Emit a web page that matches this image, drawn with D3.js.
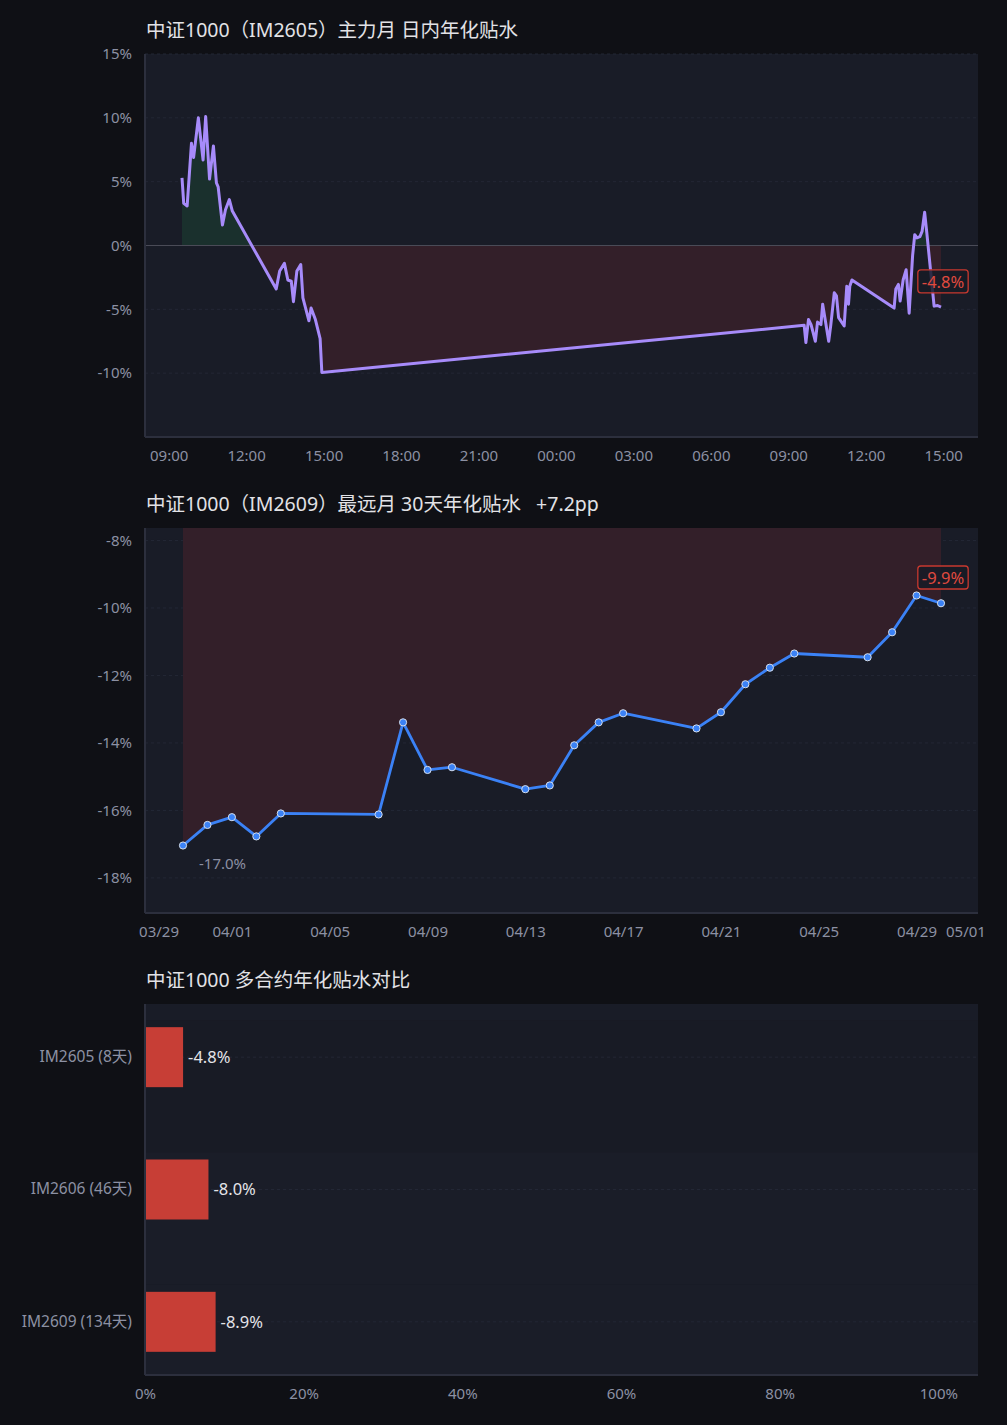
<!DOCTYPE html>
<html>
<head>
<meta charset="utf-8">
<script src="https://cdn.jsdelivr.net/npm/d3@7/dist/d3.min.js"></script>
<style>
  body { margin: 0; background: #0f1015; }
  svg text { font-family: "Noto Sans", "Noto Sans CJK SC", sans-serif; }
</style>
</head>
<body>
<div id="chart"></div>
<script>
// ---- data ----
var intradayTimes = [
  "04-29 09:31", "04-29 09:35", "04-29 09:43", "04-29 09:53", "04-29 09:58",
  "04-29 10:09", "04-29 10:20", "04-29 10:26", "04-29 10:35", "04-29 10:44",
  "04-29 10:51", "04-29 10:55", "04-29 11:05", "04-29 11:12", "04-29 11:21",
  "04-29 11:28",
  "04-29 13:10", "04-29 13:18", "04-29 13:29", "04-29 13:37", "04-29 13:45",
  "04-29 13:50", "04-29 13:58", "04-29 14:07", "04-29 14:12", "04-29 14:26",
  "04-29 14:31", "04-29 14:41", "04-29 14:52", "04-29 14:56",
  "04-30 09:37", "04-30 09:41", "04-30 09:47", "04-30 09:53", "04-30 10:03",
  "04-30 10:08", "04-30 10:16", "04-30 10:20", "04-30 10:34", "04-30 10:39",
  "04-30 10:47", "04-30 10:52", "04-30 10:57", "04-30 11:10", "04-30 11:16",
  "04-30 11:20", "04-30 11:23", "04-30 11:28",
  "04-30 13:06", "04-30 13:10", "04-30 13:16", "04-30 13:20", "04-30 13:27",
  "04-30 13:34", "04-30 13:41", "04-30 13:49", "04-30 13:54", "04-30 13:59",
  "04-30 14:06", "04-30 14:11", "04-30 14:17", "04-30 14:22", "04-30 14:39",
  "04-30 14:47", "04-30 14:55"
];
var intradayValues = [
  5.3, 3.3, 3.1, 8.0, 6.9,
  10.0, 6.7, 10.1, 5.2, 7.8,
  4.9, 4.6, 1.6, 2.8, 3.6,
  2.7,
  -3.4, -2.0, -1.4, -2.7, -2.8,
  -4.4, -2.0, -1.5, -4.1, -5.9,
  -4.9, -5.8, -7.3, -9.95,
  -6.25, -7.6, -5.8, -6.2, -7.5,
  -6.0, -6.2, -4.6, -7.5, -6.2,
  -3.7, -3.95, -5.65, -6.3, -3.2,
  -4.6, -3.2, -2.7,
  -4.9, -3.4, -3.05, -4.35, -2.7,
  -1.9, -5.3, -0.8, 0.85, 0.6,
  0.7, 1.1, 2.6, 1.0, -4.75,
  -4.7, -4.82
];

var dailyDates = [
  "03-30", "03-31", "04-01", "04-02", "04-03", "04-07", "04-08", "04-09",
  "04-10", "04-13", "04-14", "04-15", "04-16", "04-17", "04-20", "04-21",
  "04-22", "04-23", "04-24", "04-27", "04-28", "04-29", "04-30"
];
var dailyValues = [
  -17.04, -16.43, -16.2, -16.77, -16.09, -16.12, -13.39, -14.8,
  -14.72, -15.37, -15.26, -14.07, -13.39, -13.12, -13.57, -13.09,
  -12.26, -11.77, -11.35, -11.46, -10.72, -9.63, -9.86
];

var contracts = ["IM2605 (8天)", "IM2606 (46天)", "IM2609 (134天)"];
var contractValues = [-4.8, -8.0, -8.9];

var intradayTicks = [-10, -5, 0, 5, 10, 15];
var dailyTicks = [-18, -16, -14, -12, -10, -8];
var barTicks = [0, 20, 40, 60, 80, 100];

// ---- layout ----
var W = 1007, H = 1425;
var LEFT = 145, RIGHT = 978, PW = RIGHT - LEFT;
var PAD = 37;

var C = {
  bg: "#0f1015", panel: "#191c27", grid: "#232735", axis: "#2c2f3d",
  text: "#8c90a3", title: "#e2e2e6", zero: "#4a4b57",
  green: "#1a302d", red: "#331f29", label: "#e04a3f"
};

var svg = d3.select("#chart").append("svg")
  .attr("width", W).attr("height", H)
  .style("background", C.bg);

var parseMin = d3.timeParse("%Y-%m-%d %H:%M");
var parseDay = d3.timeParse("%Y-%m-%d");

function addPanel(top, height, title) {
  var g = svg.append("g").attr("transform", "translate(" + LEFT + "," + top + ")");
  g.append("rect").attr("width", PW).attr("height", height).attr("fill", C.panel);
  svg.append("text")
    .attr("x", LEFT + 1).attr("y", top - 17)
    .attr("fill", C.title)
    .style("font-size", "19.5px")
    .style("white-space", "pre")
    .text(title);
  return g;
}

function frame(g, height) {
  g.append("line").attr("x1", 0).attr("x2", 0).attr("y1", 0).attr("y2", height)
    .attr("stroke", C.axis).attr("stroke-width", 2);
  g.append("line").attr("x1", 0).attr("x2", PW).attr("y1", height).attr("y2", height)
    .attr("stroke", C.axis).attr("stroke-width", 2);
}

function yAxisLabels(g, y, ticks, height) {
  g.selectAll(".grid").data(ticks).enter().append("line")
    .attr("x1", 0).attr("x2", PW)
    .attr("y1", function(d) { return y(d); })
    .attr("y2", function(d) { return y(d); })
    .attr("stroke", C.grid).attr("stroke-dasharray", "3,3");
  var ax = g.append("g").call(d3.axisLeft(y).tickValues(ticks).tickSize(0).tickPadding(13)
    .tickFormat(function(d) { return d + "%"; }));
  ax.select(".domain").remove();
  ax.selectAll("text").attr("fill", C.text).style("font-size", "15px");
}

function xAxisLabels(g, x, ticks, fmt, height) {
  var ax = g.append("g").attr("transform", "translate(0," + height + ")")
    .call(d3.axisBottom(x).tickValues(ticks).tickSize(0).tickPadding(13).tickFormat(fmt));
  ax.select(".domain").remove();
  ax.selectAll("text").attr("fill", C.text).style("font-size", "15px");
}

function fillAreas(g, id, data, x, y, height) {
  var zy = Math.max(0, Math.min(height, y(0)));
  var defs = svg.append("defs");
  defs.append("clipPath").attr("id", id + "-up")
    .append("rect").attr("width", PW).attr("height", zy);
  defs.append("clipPath").attr("id", id + "-dn")
    .append("rect").attr("y", zy).attr("width", PW).attr("height", height - zy);
  var area = d3.area()
    .x(function(d) { return x(d.t); })
    .y0(y(0))
    .y1(function(d) { return y(d.v); });
  g.append("path").attr("d", area(data)).attr("fill", C.green)
    .attr("clip-path", "url(#" + id + "-up)");
  g.append("path").attr("d", area(data)).attr("fill", C.red)
    .attr("clip-path", "url(#" + id + "-dn)");
}

function valueTag(g, px, py, txt) {
  var t = g.append("text")
    .attr("x", px + 2).attr("y", py - 25)
    .attr("dy", "0.35em")
    .attr("text-anchor", "middle")
    .attr("fill", C.label)
    .style("font-size", "16.5px")
    .text(txt);
  var b = t.node().getBBox();
  g.insert("rect", function() { return t.node(); })
    .attr("x", b.x - 4).attr("y", b.y)
    .attr("width", b.width + 8).attr("height", b.height)
    .attr("rx", 3)
    .attr("fill", "rgba(24,27,38,0.85)")
    .attr("stroke", "#c8392f").attr("stroke-width", 1.3);
}

// ---- chart 1: intraday ----
(function() {
  var top = 54, height = 383;
  var data = intradayTimes.map(function(s, i) {
    return { t: parseMin("2026-" + s), v: intradayValues[i] };
  });
  var g = addPanel(top, height, "中证1000（IM2605）主力月 日内年化贴水");

  var x = d3.scaleTime()
    .domain(d3.extent(data, function(d) { return d.t; }))
    .range([PAD, PW - PAD]);
  var y = d3.scaleLinear().domain([-15, 15]).range([height, 0]);

  yAxisLabels(g, y, intradayTicks, height);
  fillAreas(g, "c1", data, x, y, height);

  g.append("line").attr("x1", 0).attr("x2", PW)
    .attr("y1", y(0)).attr("y2", y(0))
    .attr("stroke", C.zero).attr("stroke-width", 1);

  var line = d3.line()
    .x(function(d) { return x(d.t); })
    .y(function(d) { return y(d.v); });
  g.append("path").attr("d", line(data))
    .attr("fill", "none").attr("stroke", "#a78bfa")
    .attr("stroke-width", 3).attr("stroke-linejoin", "round");

  var xt = d3.timeHour.every(3).range(x.invert(0), x.invert(PW));
  xAxisLabels(g, x, xt, d3.timeFormat("%H:%M"), height);
  frame(g, height);

  var last = data[data.length - 1];
  valueTag(g, x(last.t), y(last.v), last.v.toFixed(1) + "%");
})();

// ---- chart 2: daily 30-day annualised ----
(function() {
  var top = 528, height = 385;
  var data = dailyDates.map(function(s, i) {
    return { t: parseDay("2026-" + s), v: dailyValues[i] };
  });
  var first = data[0], last = data[data.length - 1];
  var chg = last.v - first.v;
  var title = "中证1000（IM2609）最远月 30天年化贴水   " + (chg >= 0 ? "+" : "") + chg.toFixed(1) + "pp";
  var g = addPanel(top, height, title);

  var x = d3.scaleTime()
    .domain([first.t, last.t])
    .range([PAD + 1, PW - PAD]);
  var y = d3.scaleLinear()
    .domain([d3.min(dailyValues) - 2, d3.max(dailyValues) + 2])
    .range([height, 0]);

  yAxisLabels(g, y, dailyTicks, height);
  fillAreas(g, "c2", data, x, y, height);

  var line = d3.line()
    .x(function(d) { return x(d.t); })
    .y(function(d) { return y(d.v); });
  g.append("path").attr("d", line(data))
    .attr("fill", "none").attr("stroke", "#3b82f6")
    .attr("stroke-width", 2.8).attr("stroke-linejoin", "round");

  g.selectAll(".dot").data(data).enter().append("circle")
    .attr("cx", function(d) { return x(d.t); })
    .attr("cy", function(d) { return y(d.v); })
    .attr("r", 3.6)
    .attr("fill", "#3b82f6")
    .attr("stroke", "#d6deea").attr("stroke-width", 1);

  var xt = d3.timeDay.every(4).range(x.invert(0), x.invert(PW));
  xAxisLabels(g, x, xt, d3.timeFormat("%m/%d"), height);
  frame(g, height);

  var lo = data[d3.minIndex(data, function(d) { return d.v; })];
  g.append("text")
    .attr("x", x(lo.t) + 16).attr("y", y(lo.v) + 18)
    .attr("dy", "0.35em")
    .attr("fill", C.text)
    .style("font-size", "15px")
    .text(lo.v.toFixed(1) + "%");

  valueTag(g, x(last.t), y(last.v), last.v.toFixed(1) + "%");
})();

// ---- chart 3: contracts comparison ----
(function() {
  var top = 1004, height = 371;
  var g = addPanel(top, height, "中证1000 多合约年化贴水对比");

  var x = d3.scaleLinear().domain([0, 105]).range([0, PW]);
  var y = d3.scaleBand().domain(contracts).range([-13, height + 13]);
  var bh = 60;

  g.selectAll(".row").data(contracts).enter().append("rect")
    .attr("x", 0).attr("width", PW)
    .attr("y", function(d) { return y(d) + y.bandwidth() / 2 - 37; })
    .attr("height", function(d, i) { return i === 2 ? height - (y(d) + y.bandwidth() / 2 - 37) : y.step(); })
    .attr("fill", function(d, i) { return i === 0 ? "#181b25" : "#1a1d28"; });

  g.selectAll(".grid").data(contracts).enter().append("line")
    .attr("x1", 0).attr("x2", PW)
    .attr("y1", function(d) { return y(d) + y.bandwidth() / 2; })
    .attr("y2", function(d) { return y(d) + y.bandwidth() / 2; })
    .attr("stroke", C.grid).attr("stroke-dasharray", "3,3");

  g.selectAll(".bar").data(contracts).enter().append("rect")
    .attr("x", 0)
    .attr("y", function(d) { return y(d) + (y.bandwidth() - bh) / 2; })
    .attr("width", function(d, i) { return x(Math.abs(contractValues[i])); })
    .attr("height", bh)
    .attr("fill", "#c73e36");

  g.selectAll(".val").data(contracts).enter().append("text")
    .attr("x", function(d, i) { return x(Math.abs(contractValues[i])) + 5; })
    .attr("y", function(d) { return y(d) + y.bandwidth() / 2; })
    .attr("dy", "0.35em")
    .attr("fill", "#e4e4e8")
    .style("font-size", "16.5px")
    .text(function(d, i) { return contractValues[i].toFixed(1) + "%"; });

  var ay = g.append("g").call(d3.axisLeft(y).tickSize(0).tickPadding(13));
  ay.select(".domain").remove();
  ay.selectAll("text").attr("fill", C.text).style("font-size", "15.5px");

  xAxisLabels(g, x, barTicks, function(d) { return d + "%"; }, height);
  frame(g, height);
})();
</script>
</body>
</html>
